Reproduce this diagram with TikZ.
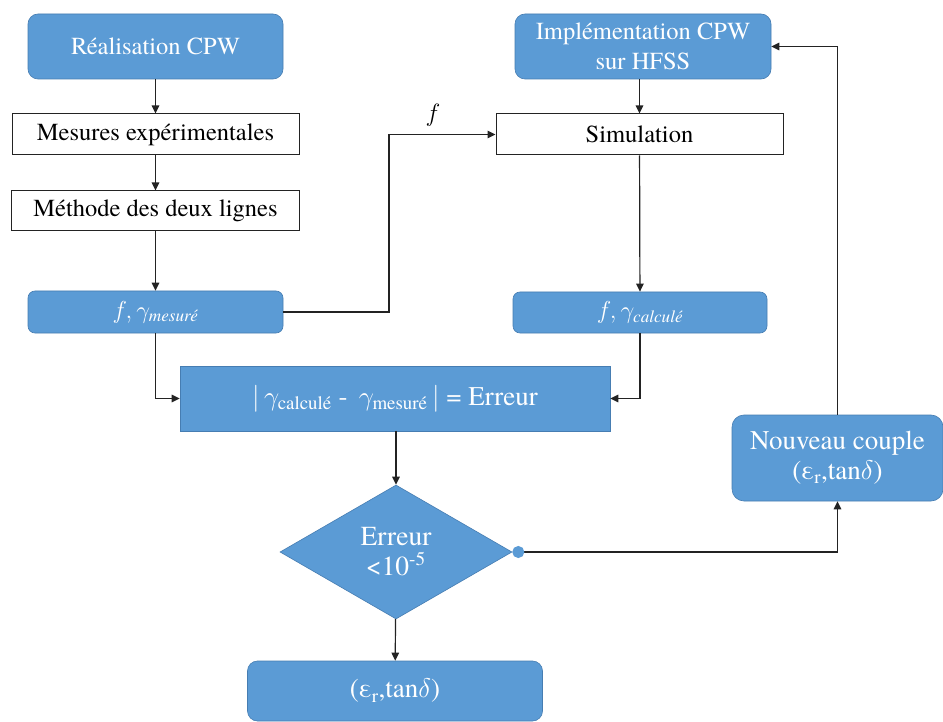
\documentclass[tikz,border=0pt]{standalone}
\usepackage{fix-cm}
\usepackage{amsmath}
\usepackage{fontspec}
\setmainfont{TeX Gyre Termes}
\usetikzlibrary{arrows.meta,shapes.geometric}

\definecolor{flowBlue}{RGB}{91,155,213}
\definecolor{flowBlueEdge}{RGB}{70,125,178}
\definecolor{flowLine}{RGB}{35,35,35}

\begin{document}
\begin{tikzpicture}[x=1pt,y=-1pt,
      bluecard/.style={draw=flowBlueEdge, fill=flowBlue, line width=.6pt,
        text=white, inner sep=0pt, align=center,
        font=\fontsize{24.5}{30}\selectfont},
      bigcard/.style={bluecard, font=\fontsize{27}{33}\selectfont},
      plainbox/.style={draw=flowLine, fill=white, line width=1pt,
        text=black, inner sep=0pt, font=\fontsize{24.5}{30}\selectfont},
      decision/.style={diamond, draw=flowBlueEdge, fill=flowBlue,
        line width=.6pt, text=white, inner sep=0pt, align=center,
        font=\fontsize{27.5}{34}\selectfont},
      flow/.style={draw=flowLine, line width=1.2pt,
        -{Triangle[length=8pt,width=7.5pt]}}]
      \useasboundingbox (0,0) rectangle (943,722);

      \fill[white] (0,0) rectangle (943,722);

      % left column
      \node[bluecard, rounded corners=10pt, minimum width=255pt,
        minimum height=65pt] (real) at (155.5,46.5) {Réalisation CPW};
      \node[plainbox, minimum width=287pt, minimum height=41pt]
        (mesures) at (155.5,134.5) {Mesures expérimentales};
      \node[plainbox, minimum width=288pt, minimum height=40pt]
        (methode) at (155.5,211) {Méthode des deux lignes};
      \node[bluecard, rounded corners=7pt, minimum width=255pt,
        minimum height=42pt] (fmes) at (155.5,312)
        {$f,\gamma_{\textit{mesuré}}$};

      % right column
      \node[bluecard, rounded corners=10pt, minimum width=256pt,
        minimum height=65pt] (impl) at (643,46.5)
        {Implémentation CPW\\sur HFSS};
      \node[plainbox, minimum width=287pt, minimum height=41pt]
        (simul) at (639.5,134.5) {Simulation};
      \node[bluecard, rounded corners=7pt, minimum width=254pt,
        minimum height=41pt] (fcalc) at (640,312.5)
        {$f,\gamma_{\textit{calculé}}$};

      % error and decision
      \node[bigcard, minimum width=430pt, minimum height=65pt]
        (erreur) at (395,398.5)
        {$|\,\gamma_{\text{calculé}}$ - \,$\gamma_{\text{mesuré}}\,|$ = Erreur};
      \node[decision, minimum width=232pt, minimum height=134pt,
        aspect=1.73] (test) at (396,552) {Erreur\\[-4pt]<10\textsuperscript{-5}};
      \node[bigcard, rounded corners=10pt, minimum width=295pt,
        minimum height=60pt] (resultat) at (395,691)
        {(ε\textsubscript{r},tan$\delta$)};
      \node[bigcard, rounded corners=12pt, minimum width=211pt,
        minimum height=86pt] (nouveau) at (837.5,458)
        {Nouveau couple\\[-3pt](ε\textsubscript{r},tan$\delta$)};

      \coordinate (fbend) at (389,0);
      \node[font=\fontsize{25}{30}\selectfont] (flabel) at (433,115) {$f$};

      \draw[flow] (real) -- (mesures);
      \draw[flow] (mesures) -- (methode);
      \draw[flow] (methode) -- (fmes);
      \draw[flow] (fmes.east) -- (fmes.east -| fbend) |- (simul.west);
      \draw[flow] (impl.south -| simul.north) -- (simul.north);
      \draw[flow] (simul) -- (fcalc);
      \draw[flow] (fmes.south) |- (erreur.west);
      \draw[flow] (fcalc.south) |- (erreur.east);
      \draw[flow] (erreur.south -| test.north) -- (test.north);
      \draw[flow] (test) -- (resultat);
      \draw[flow, {Circle[length=12pt,color=flowBlue,fill=flowBlue]}-{Triangle[length=8pt,width=7.5pt]}]
        (test.east) -| (nouveau.south);
      \draw[flow] (nouveau.north) |- (impl.east);
    \end{tikzpicture}
\end{document}
